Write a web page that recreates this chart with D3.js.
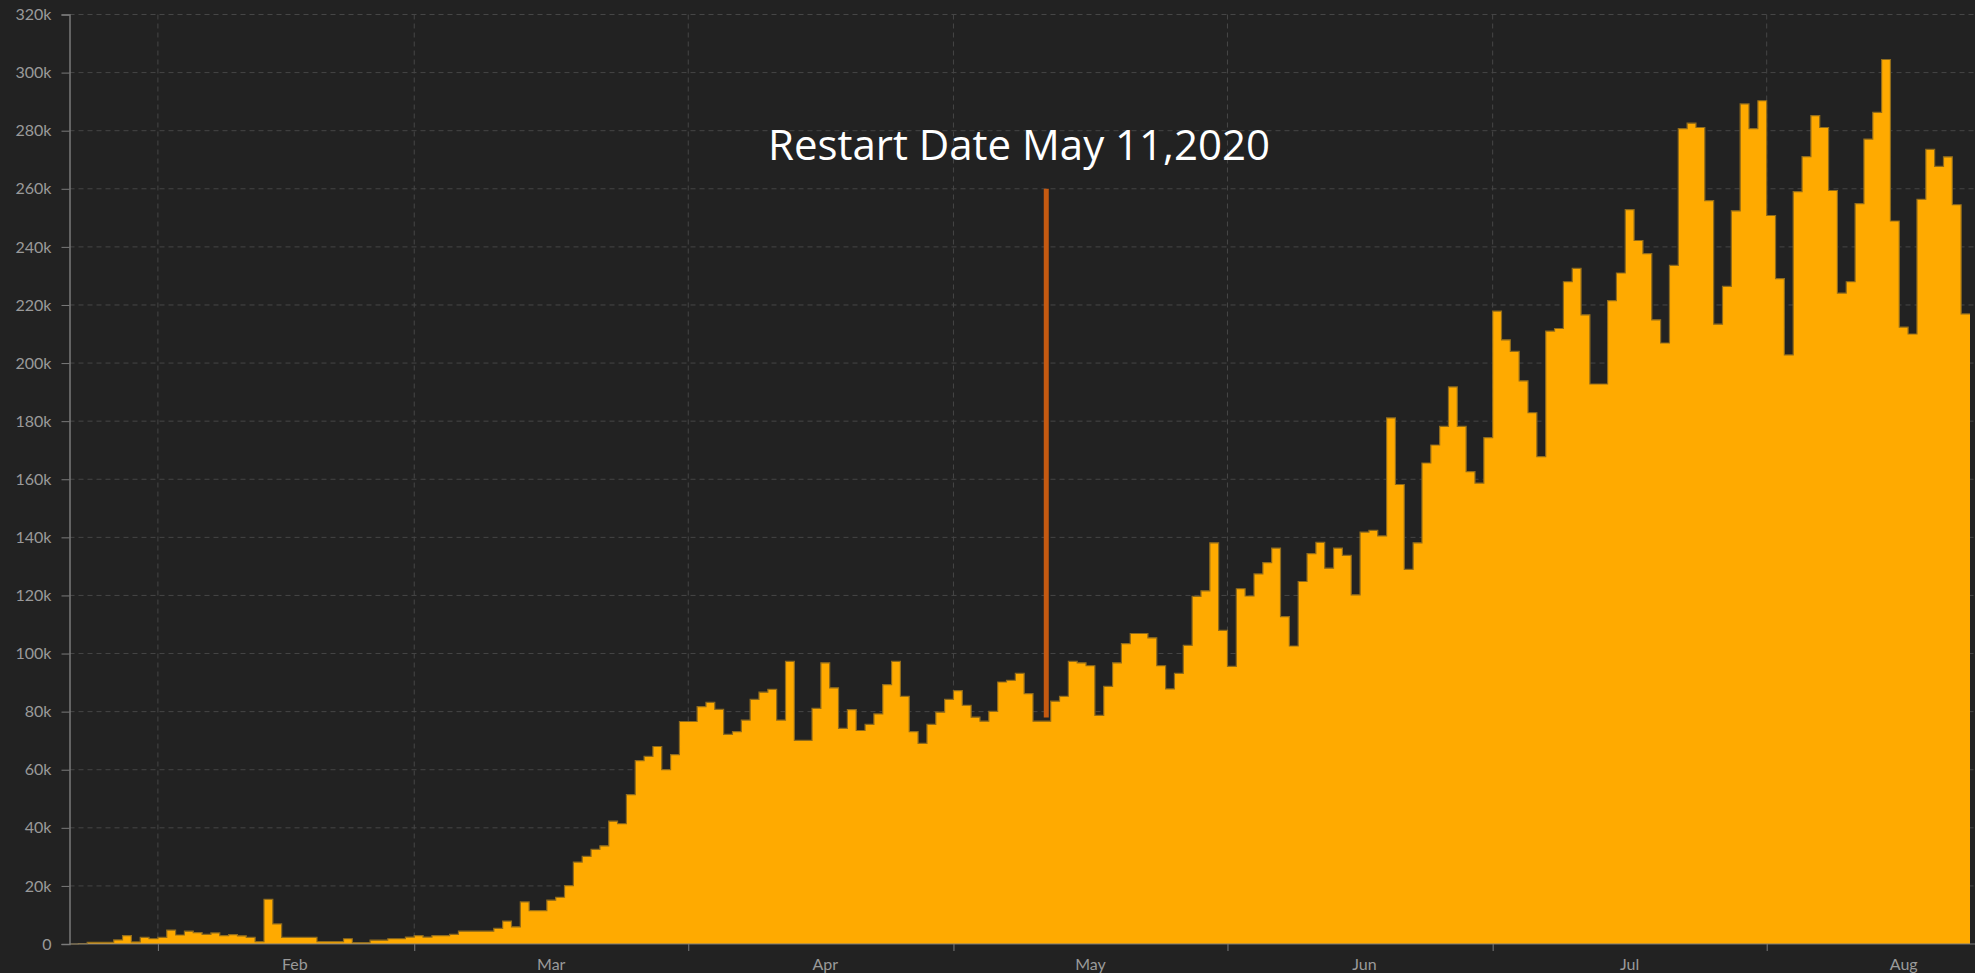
<!DOCTYPE html>
<html>
<head>
<meta charset="utf-8">
<script src="https://cdn.jsdelivr.net/npm/d3@7"></script>
<style>
  html, body { margin: 0; padding: 0; background: #222222; }
  svg { display: block; }
  .axis text { font-family: Lato, "Noto Sans", sans-serif; font-size: 16px; fill: #9a9a9a; }
  .axis path, .axis line { stroke: #7a7a7a; }
</style>
</head>
<body>
<div id="chart"></div>
<script>
// daily new cases, one value per day starting on startDate
var startDate = "2020-01-22";
var dailyCases = [
  0, 100, 600, 600, 600, 1400, 2900, 700, 2300, 1800,
  2300, 4800, 3100, 4400, 3900, 3300, 3800, 2900, 3200, 2800,
  2300, 800, 15400, 6900, 2300, 2300, 2300, 2300, 800, 800,
  800, 1800, 500, 500, 1300, 1300, 1800, 1800, 2400,
  2900, 2400, 2900, 2900, 3300, 4400, 4400, 4400, 4400, 5400,
  7900, 5900, 14500, 11500, 11500, 15100, 16100, 20100, 28200, 30200,
  32600, 33800, 42300, 41400, 51400, 63100, 64600, 68000, 60000, 65200,
  76600,
  76600, 81700, 83200, 80800, 72200, 73100, 77100, 84200, 86700, 87700,
  77100, 97300, 70100, 70100, 81100, 96800, 88200, 74200, 80700, 73500,
  75600, 79200, 89300, 97300, 85300, 73100, 69100, 75600, 79800, 84200,
  87200, 82200, 78100, 76700, 80100, 90200, 90800, 93200, 86200, 76700,
  76700, 83600, 85300, 97300, 96800, 95800, 78700, 88700, 96800, 103400,
  106900, 106900, 105400, 95800, 87800, 93200, 102800, 119700, 121600, 138100,
  108000,
  95600, 122300, 119800, 127400, 131300, 136300, 112700, 102600, 124800, 134400,
  138300, 129400, 136300, 133800, 120200, 141800, 142400, 140500, 181100, 158200,
  129000, 138100, 165600, 171800, 178200, 191800, 178200, 162600, 158700, 174300,
  217900, 208000, 204000, 193900, 182900, 167800, 211000, 211900, 228000, 232600,
  216600, 192800, 192800, 221500, 231000, 252800, 242200, 237700, 214900, 206900,
  233600, 280700, 282600, 281100, 255900, 213400, 226400, 252400, 289200, 280700,
  290300,
  250800, 229100, 202800, 259000, 271100, 285200, 281100, 259400, 224100, 228000,
  254900, 277100, 286300, 304500, 248900, 212400, 210000, 256400, 273600, 267700,
  271000, 254500, 216900
];
var yTicks = [0, 20000, 40000, 60000, 80000, 100000, 120000, 140000, 160000,
              180000, 200000, 220000, 240000, 260000, 280000, 300000, 320000];
var monthLabels = ["Feb", "Mar", "Apr", "May", "Jun", "Jul", "Aug"];
var restartDate = "2020-05-11";
var restartTop = 260000, restartBottom = 78000;
var restartLabel = "Restart Date May 11,2020";

var width = 1975, height = 973;
var parse = d3.timeParse("%Y-%m-%d");
var day0 = parse(startDate);

var data = dailyCases.map(function (v, i) {
    return {date: d3.timeDay.offset(day0, i), value: v};
});
var endDate = d3.timeDay.offset(day0, dailyCases.length);
// extra point so the last step gets its full width
var stepData = data.concat([{date: endDate, value: dailyCases[dailyCases.length - 1]}]);

var x = d3.scaleTime()
    .domain([day0, endDate])
    .range([69.5, 1970]);

var y = d3.scaleLinear()
    .domain([0, 320000])
    .range([944, 14.5]);

var svg = d3.select("#chart").append("svg")
    .attr("width", width)
    .attr("height", height);

svg.append("rect")
    .attr("width", width)
    .attr("height", height)
    .attr("fill", "#222222");

// gridlines
var months = d3.timeMonth.range(d3.timeMonth.ceil(day0), endDate);

svg.append("g").selectAll("line.hgrid")
    .data(yTicks.filter(function (d) { return d > 0; }))
    .enter().append("line")
    .attr("x1", x.range()[0])
    .attr("x2", width)
    .attr("y1", function (d) { return y(d); })
    .attr("y2", function (d) { return y(d); })
    .attr("stroke", "#464646")
    .attr("stroke-dasharray", "5,4");

svg.append("g").selectAll("line.vgrid")
    .data(months)
    .enter().append("line")
    .attr("x1", function (d) { return x(d); })
    .attr("x2", function (d) { return x(d); })
    .attr("y1", y(320000))
    .attr("y2", y(0))
    .attr("stroke", "#464646")
    .attr("stroke-dasharray", "5,4");

// step area
var area = d3.area()
    .curve(d3.curveStepAfter)
    .x(function (d) { return x(d.date); })
    .y0(y(0))
    .y1(function (d) { return y(d.value); });

var line = d3.line()
    .curve(d3.curveStepAfter)
    .x(function (d) { return x(d.date); })
    .y(function (d) { return y(d.value); });

svg.append("path")
    .datum(stepData)
    .attr("d", area)
    .attr("fill", "#FFAA00");

svg.append("path")
    .datum(stepData)
    .attr("d", line)
    .attr("fill", "none")
    .attr("stroke", "#8f6b1c")
    .attr("stroke-width", 1.2);

// axes
var yAxis = d3.axisLeft(y)
    .tickValues(yTicks)
    .tickSize(8)
    .tickPadding(10)
    .tickFormat(function (d) { return d === 0 ? "0" : (d / 1000) + "k"; });

svg.append("g")
    .attr("class", "axis")
    .attr("transform", "translate(" + x.range()[0] + ",0)")
    .call(yAxis)
    .call(function (g) { g.select(".domain").attr("stroke-width", 1.5); });

var xAxis = d3.axisBottom(x)
    .tickValues(months)
    .tickSize(7)
    .tickFormat("");

svg.append("g")
    .attr("class", "axis")
    .attr("transform", "translate(0," + y(0) + ")")
    .call(xAxis)
    .call(function (g) { g.select(".domain").attr("d", "M" + x.range()[0] + ",0H" + width); });

var dayW = x(d3.timeDay.offset(day0, 1)) - x(day0);
svg.append("g")
    .attr("class", "axis")
    .selectAll("text")
    .data(months)
    .enter().append("text")
    .attr("x", function (d) { return x(d) + 15.5 * dayW; })
    .attr("y", 970)
    .attr("text-anchor", "middle")
    .text(function (d, i) { return monthLabels[i]; });

// restart annotation
var rx = x(parse(restartDate)) + dayW / 2;
svg.append("line")
    .attr("x1", rx)
    .attr("x2", rx)
    .attr("y1", y(restartTop))
    .attr("y2", y(restartBottom))
    .attr("stroke", "#C55A11")
    .attr("stroke-width", 5);

svg.append("text")
    .attr("x", 768)
    .attr("y", 160)
    .attr("textLength", 502)
    .attr("lengthAdjust", "spacingAndGlyphs")
    .style("font-family", "'Open Sans', 'Noto Sans', sans-serif")
    .style("font-size", "42px")
    .style("fill", "#ffffff")
    .text(restartLabel);
</script>
</body>
</html>
